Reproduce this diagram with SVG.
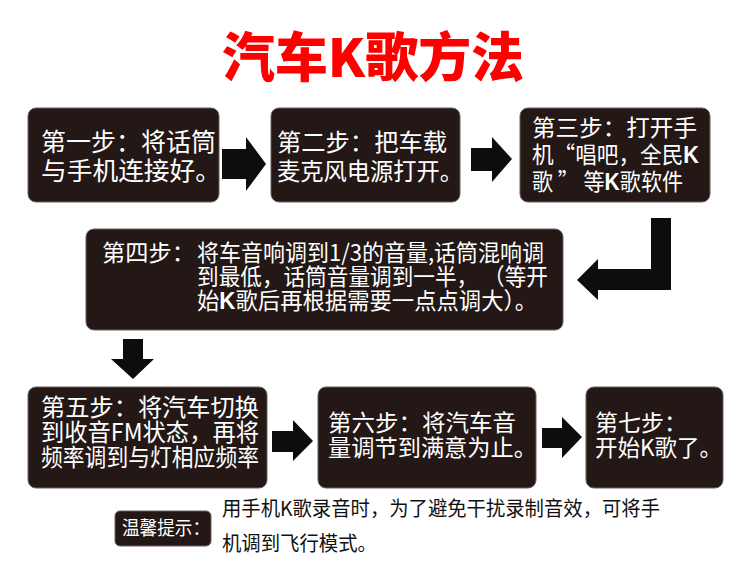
<svg xmlns="http://www.w3.org/2000/svg" width="750" height="567" viewBox="0 0 750 567">
<style>
.box{fill:#231815;stroke:#6a605e;stroke-width:1}
.t{font-family:"Noto Sans CJK SC","Noto Sans",sans-serif;fill:#ffffff}
.k{font-family:"Liberation Sans",Arial,sans-serif;font-weight:bold}
.arr{fill:#0d0d0d}
</style>
<rect width="750" height="567" fill="#ffffff"/>
<text x="222" y="77" font-family="Noto Sans CJK SC, sans-serif" font-size="53" font-weight="900" fill="#ff0000" textLength="302" lengthAdjust="spacingAndGlyphs">汽车K歌方法</text>

<g id="connectors">
<polygon class="arr" points="222,149 246,149 246,137 266,164 246,191 246,179 222,179"/>
<polygon class="arr" points="471,148 492,148 492,137 512,159 492,182 492,171 471,171"/>
<polygon class="arr" points="651,218 671,218 671,290 598,290 598,300 577,280 598,259 598,269 651,269"/>
<polygon class="arr" points="123,339 143,339 143,359 154,359 133,379 111,359 123,359"/>
<polygon class="arr" points="272,431 293,431 293,420 313,441 293,461 293,452 272,452"/>
<polygon class="arr" points="542,428 562,428 562,417 582,437 562,458 562,448 542,448"/>
</g>

<g id="step1">
<rect class="box" x="28" y="108" width="191" height="94" rx="8"/>
<text class="t" font-size="25"><tspan x="41" y="151" textLength="175" lengthAdjust="spacingAndGlyphs">第一步：将话筒</tspan><tspan x="41" y="180" textLength="180" lengthAdjust="spacingAndGlyphs">与手机连接好。</tspan></text>
</g>
<g id="step2">
<rect class="box" x="271" y="108" width="189" height="94" rx="8"/>
<text class="t" font-size="24"><tspan x="277" y="151" textLength="170" lengthAdjust="spacingAndGlyphs">第二步：把车载</tspan><tspan x="277" y="180" textLength="186" lengthAdjust="spacingAndGlyphs">麦克风电源打开。</tspan></text>
</g>
<g id="step3">
<rect class="box" x="520" y="108" width="190" height="94" rx="8"/>
<text class="t" font-size="23" x="532" y="136" textLength="165" lengthAdjust="spacingAndGlyphs">第三步：打开手</text>
<text class="t" font-size="23" x="532" y="163" textLength="167" lengthAdjust="spacingAndGlyphs">机“唱吧，全民<tspan class="k">K</tspan></text>
<text class="t" font-size="23" x="532" y="190" textLength="151" lengthAdjust="spacingAndGlyphs">歌 ” 等<tspan class="k">K</tspan>歌软件</text>
</g>
<g id="step4">
<rect class="box" x="86" y="229" width="477" height="101" rx="8"/>
<text class="t" font-size="23" x="102" y="261" textLength="93" lengthAdjust="spacingAndGlyphs">第四步：</text>
<text class="t" font-size="23" x="197" y="261" textLength="347" lengthAdjust="spacingAndGlyphs">将车音响调到1/3的音量,话筒混响调</text>
<text class="t" font-size="23" x="197" y="285" textLength="351" lengthAdjust="spacingAndGlyphs">到最低，话筒音量调到一半， （等开</text>
<text class="t" font-size="23" x="197" y="309" textLength="340" lengthAdjust="spacingAndGlyphs">始<tspan class="k">K</tspan>歌后再根据需要一点点调大）。</text>
</g>
<g id="step5">
<rect class="box" x="28" y="387" width="239" height="101" rx="8"/>
<text class="t" font-size="24"><tspan x="41" y="416" textLength="218" lengthAdjust="spacingAndGlyphs">第五步：将汽车切换</tspan><tspan x="41" y="441" textLength="218" lengthAdjust="spacingAndGlyphs">到收音FM状态，再将</tspan><tspan x="41" y="466" textLength="218" lengthAdjust="spacingAndGlyphs">频率调到与灯相应频率</tspan></text>
</g>
<g id="step6">
<rect class="box" x="318" y="387" width="218" height="101" rx="8"/>
<text class="t" font-size="23"><tspan x="328" y="431" textLength="188" lengthAdjust="spacingAndGlyphs">第六步：将汽车音</tspan><tspan x="328" y="456" textLength="209" lengthAdjust="spacingAndGlyphs">量调节到满意为止。</tspan></text>
</g>
<g id="step7">
<rect class="box" x="586" y="387" width="137" height="101" rx="8"/>
<text class="t" font-size="23"><tspan x="595" y="431">第七步：</tspan><tspan x="595" y="456" textLength="127" lengthAdjust="spacingAndGlyphs">开始K歌了。</tspan></text>
</g>
<g id="tip">
<rect class="box" x="115" y="511" width="96" height="35" rx="5"/>
<text class="t" font-size="19" x="122" y="535" textLength="88" lengthAdjust="spacingAndGlyphs">温馨提示：</text>
<text font-family="Noto Sans CJK SC, sans-serif" font-size="20" fill="#111111"><tspan x="222" y="516" textLength="438" lengthAdjust="spacingAndGlyphs">用手机K歌录音时，为了避免干扰录制音效，可将手</tspan><tspan x="222" y="551" textLength="155" lengthAdjust="spacingAndGlyphs">机调到飞行模式。</tspan></text>
</g>
</svg>
